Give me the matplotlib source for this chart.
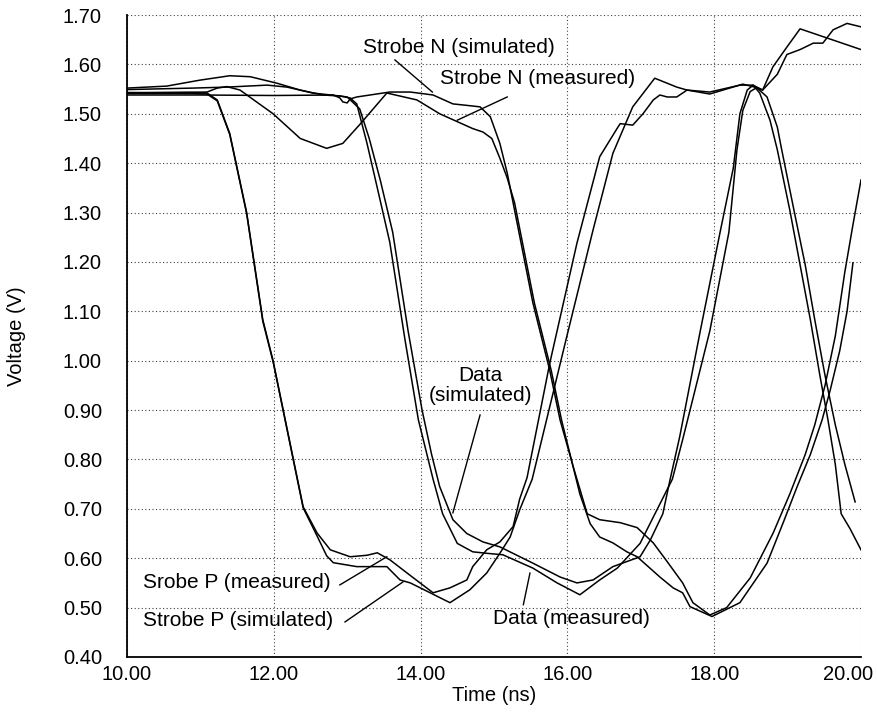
import matplotlib
matplotlib.use("Agg")
import matplotlib.pyplot as plt
from matplotlib import transforms

plt.rcParams['font.family'] = ['Liberation Sans', 'DejaVu Sans']
plt.rcParams['font.size'] = 15

# ---- datos (tiempo en ns, tension en V) ----
strobe_p_meas_t = [10.00, 10.86, 11.09, 11.23, 11.40, 11.63, 11.85, 11.99, 12.22, 12.40, 12.59,
                   12.77, 13.04, 13.27, 13.41, 13.58, 13.86, 14.17, 14.40, 14.63, 14.71, 14.90,
                   15.08, 15.26, 15.35, 15.45, 15.76, 16.13, 16.44, 16.68, 16.72, 16.89, 17.03,
                   17.17, 17.26, 17.36, 17.49, 17.63, 17.94, 18.39, 18.58, 18.66, 18.86, 18.99,
                   19.17, 19.35, 19.48, 19.62, 19.81, 20.00]
strobe_p_meas_v = [1.543, 1.543, 1.542, 1.528, 1.460, 1.300, 1.083, 1.000, 0.834, 0.704, 0.651,
                   0.617, 0.603, 0.606, 0.611, 0.597, 0.565, 0.530, 0.540, 0.556, 0.583, 0.617,
                   0.633, 0.664, 0.720, 0.763, 0.995, 1.238, 1.413, 1.471, 1.480, 1.477, 1.500,
                   1.528, 1.538, 1.534, 1.534, 1.548, 1.540, 1.560, 1.553, 1.548, 1.580, 1.620,
                   1.630, 1.643, 1.643, 1.670, 1.683, 1.676]

strobe_p_sim_t = [10.00, 10.86, 11.09, 11.23, 11.40, 11.63, 11.85, 11.99, 12.22, 12.40, 12.59,
                  12.72, 12.81, 13.13, 13.54, 13.72, 13.86, 14.40, 14.67, 14.90, 15.08, 15.22,
                  15.35, 15.52, 15.99, 16.35, 16.62, 16.89, 17.19, 17.49, 17.63, 17.94, 18.35,
                  18.53, 18.66, 18.80, 18.99, 19.17, 20.00]
strobe_p_sim_v = [1.541, 1.541, 1.540, 1.526, 1.458, 1.298, 1.080, 0.998, 0.832, 0.702, 0.645,
                  0.605, 0.591, 0.583, 0.583, 0.556, 0.550, 0.510, 0.536, 0.570, 0.610, 0.643,
                  0.698, 0.760, 1.048, 1.265, 1.420, 1.514, 1.572, 1.554, 1.548, 1.544, 1.558,
                  1.558, 1.548, 1.595, 1.635, 1.672, 1.630]

strobe_n_sim_t = [10.00, 11.00, 12.00, 12.81, 12.90, 12.94, 13.00, 13.04, 13.13, 13.58, 13.86,
                  14.17, 14.44, 14.63, 14.81, 14.95, 15.08, 15.18, 15.26, 15.53, 15.76, 15.90,
                  16.08, 16.27, 16.44, 16.72, 16.95, 17.17, 17.36, 17.57, 17.71, 17.94, 18.17,
                  18.49, 18.80, 19.03, 19.24, 19.37, 19.51, 19.65, 19.78, 19.89, 20.00]
strobe_n_sim_v = [1.538, 1.538, 1.537, 1.538, 1.532, 1.524, 1.522, 1.530, 1.534, 1.544, 1.544,
                  1.538, 1.520, 1.517, 1.514, 1.494, 1.440, 1.380, 1.320, 1.117, 0.980, 0.880,
                  0.785, 0.690, 0.678, 0.672, 0.662, 0.631, 0.593, 0.550, 0.510, 0.485, 0.500,
                  0.560, 0.650, 0.730, 0.810, 0.870, 0.950, 1.050, 1.180, 1.275, 1.366]

strobe_n_meas_t = [10.00, 11.09, 11.23, 11.36, 11.54, 11.99, 12.36, 12.72, 12.94, 13.17, 13.54,
                   13.95, 14.26, 14.50, 14.71, 14.85, 14.97, 15.08, 15.18, 15.28, 15.55, 15.78,
                   15.92, 16.17, 16.31, 16.44, 16.62, 16.81, 16.95, 17.26, 17.44, 17.57, 17.67,
                   17.97, 18.35, 18.72, 18.94, 19.13, 19.31, 19.47, 19.58, 19.71, 19.81, 19.89]
strobe_n_meas_v = [1.542, 1.544, 1.552, 1.555, 1.548, 1.500, 1.450, 1.430, 1.440, 1.478, 1.542,
                   1.528, 1.500, 1.484, 1.470, 1.463, 1.450, 1.410, 1.370, 1.320, 1.117, 0.980,
                   0.880, 0.730, 0.670, 0.643, 0.631, 0.613, 0.603, 0.562, 0.540, 0.530, 0.502,
                   0.482, 0.510, 0.590, 0.672, 0.745, 0.810, 0.880, 0.940, 1.020, 1.100, 1.198]

data_sim_t = [10.00, 10.54, 10.99, 11.40, 11.68, 12.04, 12.36, 12.67, 12.90, 13.00, 13.17,
              13.30, 13.45, 13.62, 13.83, 14.02, 14.15, 14.26, 14.44, 14.63, 14.85, 15.08,
              15.53, 15.90, 16.13, 16.35, 16.62, 16.99, 17.13, 17.30, 17.40, 17.53, 17.81,
              18.08, 18.26, 18.35, 18.45, 18.53, 18.62, 18.76, 18.86, 19.03, 19.17, 19.31,
              19.44, 19.55, 19.65, 19.73, 19.85, 20.00]
data_sim_v = [1.552, 1.556, 1.568, 1.577, 1.575, 1.562, 1.548, 1.538, 1.536, 1.534, 1.510,
              1.450, 1.366, 1.260, 1.060, 0.900, 0.810, 0.745, 0.678, 0.650, 0.633, 0.623,
              0.590, 0.562, 0.550, 0.556, 0.583, 0.603, 0.637, 0.690, 0.760, 0.846, 1.060,
              1.260, 1.390, 1.500, 1.548, 1.558, 1.542, 1.487, 1.427, 1.305, 1.194, 1.083,
              0.970, 0.880, 0.790, 0.690, 0.660, 0.617]

data_meas_t = [10.00, 10.90, 11.36, 11.91, 12.18, 12.53, 12.90, 13.04, 13.13, 13.27, 13.41,
               13.58, 13.79, 13.97, 14.17, 14.30, 14.50, 14.71, 14.90, 15.12, 15.53, 15.86,
               16.17, 16.44, 16.68, 16.99, 17.22, 17.43, 17.57, 17.94, 18.20, 18.31, 18.39,
               18.49, 18.58, 18.72, 18.86, 18.92, 19.10, 19.24, 19.37, 19.51, 19.65, 19.78, 19.92]
data_meas_v = [1.549, 1.552, 1.554, 1.558, 1.554, 1.542, 1.536, 1.532, 1.520, 1.440, 1.350,
               1.240, 1.040, 0.880, 0.760, 0.690, 0.630, 0.613, 0.610, 0.607, 0.580, 0.550,
               0.526, 0.556, 0.580, 0.630, 0.698, 0.760, 0.840, 1.060, 1.260, 1.427, 1.507,
               1.545, 1.553, 1.534, 1.473, 1.427, 1.295, 1.194, 1.083, 0.970, 0.870, 0.790, 0.714]

# etiquetas: (texto, posicion del texto, alineacion, punto senalado)
etiquetas = [
    ("Strobe N (simulated)", (13.22, 1.635), 'left', (13.65, 1.609), (14.16, 1.544)),
    ("Strobe N (measured)", (14.26, 1.572), 'left', (15.18, 1.534), (14.50, 1.487)),
    ("Data\n(simulated)", (14.81, 0.950), 'center', (14.81, 0.890), (14.44, 0.692)),
    ("Srobe P (measured)", (10.22, 0.550), 'left', (12.90, 0.546), (13.54, 0.603)),
    ("Strobe P (simulated)", (10.22, 0.473), 'left', (12.97, 0.471), (13.76, 0.552)),
    ("Data (measured)", (14.99, 0.477), 'left', (15.40, 0.506), (15.49, 0.570)),
]

x_ticks = [10, 12, 14, 16, 18, 20]
y_ticks = [0.40 + 0.10 * i for i in range(14)]

fig = plt.figure(figsize=(8.77, 7.23), dpi=100)
ax = fig.add_axes([127 / 877, 1 - 657 / 723, (861 - 127) / 877, (657 - 15) / 723])

curvas = [
    (strobe_p_meas_t, strobe_p_meas_v),
    (strobe_p_sim_t, strobe_p_sim_v),
    (strobe_n_sim_t, strobe_n_sim_v),
    (strobe_n_meas_t, strobe_n_meas_v),
    (data_sim_t, data_sim_v),
    (data_meas_t, data_meas_v),
]
for t, v in curvas:
    ax.plot(t, v, color='black', linewidth=1.1, solid_joinstyle='round')

for texto, pos, ha, p0, p1 in etiquetas:
    ax.text(pos[0], pos[1], texto, ha=ha, va='center', multialignment='center',
            linespacing=1.05)
    ax.plot([p0[0], p1[0]], [p0[1], p1[1]], color='black', linewidth=1.0)

ax.set_xlim(10, 20)
ax.set_ylim(0.40, 1.70)
ax.set_xticks(x_ticks)
ax.set_xticklabels(["%.2f" % x for x in x_ticks])
ax.set_yticks(y_ticks)
ax.set_yticklabels(["%.2f" % y for y in y_ticks])
ax.tick_params(length=0, labelsize=14.5)
ax.tick_params(axis='y', pad=18)
ax.tick_params(axis='x', pad=6)

# la ultima etiqueta del eje x se desplaza para que quepa
ultima = ax.get_xticklabels()[-1]
ultima.set_transform(ultima.get_transform() + transforms.ScaledTranslation(-13 / 100, 0, fig.dpi_scale_trans))

ax.grid(True, color='0.25', linestyle=(0, (1, 2.2)), linewidth=0.8)
ax.spines['top'].set_visible(False)
ax.spines['right'].set_visible(False)
ax.spines['left'].set_linewidth(1.3)
ax.spines['bottom'].set_linewidth(1.3)

ax.set_xlabel("Time (ns)", labelpad=1, fontsize=14.5)
fig.text(17 / 877, 1 - 336 / 723, "Voltage (V)", rotation=90, ha='center', va='center',
         fontsize=14.5)

fig.savefig("out.png", dpi=100)
